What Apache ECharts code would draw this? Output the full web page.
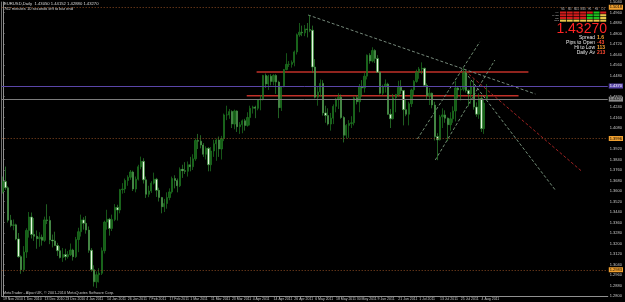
<!DOCTYPE html>
<html>
<head>
<meta charset="utf-8">
<script src="https://cdn.jsdelivr.net/npm/echarts@6/dist/echarts.min.js"></script>
<style>
  html, body { margin: 0; padding: 0; background: #000; }
  #chart { width: 625px; height: 302px; }
</style>
</head>
<body>
<div id="chart"></div>
<script>
// EURUSD daily, 19 Nov 2010 .. 8 Aug 2011 (one bar per weekday)
const dateLabels = ['19 Nov 2010', '1 Dec 2010', '13 Dec 2010', '23 Dec 2010', '4 Jan 2011', '14 Jan 2011',
  '26 Jan 2011', '7 Feb 2011', '17 Feb 2011', '1 Mar 2011', '11 Mar 2011', '23 Mar 2011', '4 Apr 2011',
  '14 Apr 2011', '26 Apr 2011', '6 May 2011', '18 May 2011', '30 May 2011', '9 Jun 2011', '21 Jun 2011',
  '1 Jul 2011', '13 Jul 2011', '25 Jul 2011', '4 Aug 2011']

const opens = [
  1.3593,1.3672,1.3624,1.3378,1.3338,1.3342,1.3235,1.3100,1.3000,1.3135,
  1.3300,1.3402,1.3269,1.3255,1.3236,1.3248,1.3224,1.3380,1.3376,1.3226,
  1.3220,1.3185,1.3145,1.3094,1.3116,1.3100,1.3115,1.3150,1.3100,1.3230,
  1.3290,1.3380,1.3354,1.3302,1.3148,1.3000,1.2908,1.2962,1.2973,1.3145,
  1.3363,1.3385,1.3315,1.3382,1.3475,1.3455,1.3610,1.3615,1.3680,1.3705,
  1.3745,1.3615,1.3690,1.3785,1.3826,1.3685,1.3575,1.3600,1.3660,1.3690,
  1.3605,1.3550,1.3480,1.3505,1.3550,1.3593,1.3695,1.3680,1.3640,1.3765,
  1.3755,1.3750,1.3800,1.3785,1.3845,1.3985,1.3980,1.3950,1.3880,1.3925,
  1.3800,1.3905,1.3960,1.3988,1.3920,1.4000,1.4180,1.4180,1.4205,1.4110,
  1.4210,1.4090,1.4105,1.4135,1.4100,1.4160,1.4230,1.4240,1.4230,1.4295,
  1.4300,1.4480,1.4415,1.4475,1.4435,1.4480,1.4430,1.4235,1.4395,1.4525,
  1.4565,1.4565,1.4580,1.4660,1.4790,1.4810,1.4805,1.4835,1.4830,1.4825,
  1.4545,1.4315,1.4355,1.4420,1.4195,1.4175,1.4110,1.4155,1.4245,1.4300,
  1.4315,1.4160,1.4025,1.4100,1.4115,1.4120,1.4310,1.4280,1.4395,1.4385,
  1.4475,1.4635,1.4590,1.4670,1.4610,1.4505,1.4345,1.4395,1.4415,1.4185,
  1.4150,1.4310,1.4335,1.4390,1.4365,1.4220,1.4185,1.4265,1.4370,1.4435,
  1.4505,1.4530,1.4535,1.4405,1.4325,1.4345,1.4255,1.4015,1.3990,1.4165,
  1.4180,1.4155,1.4105,1.4150,1.4210,1.4385,1.4370,1.4375,1.4500,1.4365,
  1.4340,1.4395,1.4240,1.4185,1.4305,1.4075,1.4305]

const highs = [
  1.3710,1.3786,1.3636,1.3418,1.3383,1.3351,1.3280,1.3110,1.3180,1.3316,
  1.3440,1.3436,1.3394,1.3299,1.3286,1.3268,1.3405,1.3499,1.3408,1.3268,
  1.3290,1.3205,1.3180,1.3166,1.3160,1.3142,1.3200,1.3160,1.3250,1.3320,
  1.3420,1.3400,1.3410,1.3330,1.3165,1.3034,1.2987,1.3012,1.3170,1.3374,
  1.3457,1.3395,1.3420,1.3500,1.3495,1.3616,1.3660,1.3695,1.3720,1.3760,
  1.3755,1.3710,1.3800,1.3862,1.3850,1.3710,1.3640,1.3675,1.3740,1.3700,
  1.3625,1.3555,1.3540,1.3590,1.3620,1.3710,1.3720,1.3695,1.3780,1.3800,
  1.3820,1.3825,1.3860,1.3880,1.4000,1.4035,1.4025,1.3965,1.3940,1.3935,
  1.3935,1.3990,1.4000,1.4015,1.4020,1.4190,1.4250,1.4225,1.4215,1.4220,
  1.4215,1.4125,1.4145,1.4150,1.4200,1.4250,1.4250,1.4250,1.4300,1.4330,
  1.4485,1.4495,1.4485,1.4490,1.4490,1.4490,1.4440,1.4400,1.4530,1.4650,
  1.4590,1.4595,1.4670,1.4800,1.4880,1.4860,1.4865,1.4880,1.4940,1.4860,
  1.4605,1.4395,1.4450,1.4445,1.4250,1.4230,1.4195,1.4260,1.4310,1.4345,
  1.4335,1.4170,1.4110,1.4140,1.4170,1.4320,1.4330,1.4415,1.4445,1.4500,
  1.4640,1.4650,1.4695,1.4680,1.4635,1.4510,1.4410,1.4450,1.4425,1.4225,
  1.4340,1.4340,1.4440,1.4445,1.4370,1.4300,1.4280,1.4380,1.4445,1.4525,
  1.4545,1.4580,1.4540,1.4420,1.4385,1.4350,1.4280,1.4040,1.4180,1.4230,
  1.4215,1.4160,1.4200,1.4245,1.4440,1.4400,1.4400,1.4540,1.4520,1.4375,
  1.4440,1.4450,1.4275,1.4345,1.4325,1.4300,1.4415]

const lows = [
  1.3580,1.3608,1.3360,1.3324,1.3301,1.3225,1.3091,1.2969,1.2983,1.3090,
  1.3245,1.3238,1.3220,1.3160,1.3175,1.3184,1.3212,1.3348,1.3195,1.3170,
  1.3180,1.3105,1.3086,1.3060,1.3072,1.3085,1.3105,1.3070,1.3090,1.3134,
  1.3253,1.3306,1.3275,1.3129,1.2985,1.2872,1.2861,1.2903,1.2960,1.3124,
  1.3306,1.3260,1.3295,1.3370,1.3375,1.3430,1.3580,1.3585,1.3640,1.3685,
  1.3600,1.3590,1.3680,1.3765,1.3657,1.3547,1.3553,1.3585,1.3650,1.3555,
  1.3520,1.3430,1.3440,1.3465,1.3530,1.3580,1.3620,1.3590,1.3630,1.3700,
  1.3730,1.3710,1.3750,1.3760,1.3830,1.3920,1.3925,1.3860,1.3840,1.3750,
  1.3750,1.3860,1.3830,1.3860,1.3840,1.3980,1.4140,1.4150,1.4080,1.4070,
  1.4050,1.4035,1.4040,1.4060,1.4090,1.4100,1.4190,1.4155,1.4215,1.4215,
  1.4290,1.4385,1.4370,1.4405,1.4405,1.4340,1.4155,1.4210,1.4390,1.4520,
  1.4545,1.4540,1.4550,1.4640,1.4775,1.4780,1.4780,1.4770,1.4810,1.4500,
  1.4305,1.4250,1.4320,1.4175,1.4120,1.4100,1.4060,1.4110,1.4200,1.4225,
  1.4150,1.3970,1.4000,1.4005,1.4080,1.4100,1.4260,1.4200,1.4320,1.4350,
  1.4450,1.4570,1.4580,1.4575,1.4500,1.4335,1.4330,1.4350,1.4180,1.4080,
  1.4145,1.4200,1.4320,1.4340,1.4100,1.4170,1.4100,1.4240,1.4330,1.4425,
  1.4455,1.4490,1.4400,1.4295,1.4255,1.4230,1.3985,1.3835,1.3985,1.4080,
  1.4120,1.3980,1.4060,1.4120,1.4130,1.4305,1.4290,1.4360,1.4350,1.4245,
  1.4265,1.4220,1.4165,1.4150,1.4050,1.4035,1.4288]

const closes = [
  1.3672,1.3624,1.3378,1.3338,1.3342,1.3235,1.3100,1.3000,1.3135,1.3300,
  1.3402,1.3269,1.3255,1.3236,1.3248,1.3224,1.3380,1.3376,1.3226,1.3220,
  1.3185,1.3145,1.3094,1.3116,1.3100,1.3115,1.3150,1.3100,1.3230,1.3290,
  1.3380,1.3354,1.3302,1.3148,1.3000,1.2908,1.2962,1.2973,1.3145,1.3363,
  1.3385,1.3315,1.3382,1.3475,1.3455,1.3610,1.3615,1.3680,1.3705,1.3745,
  1.3615,1.3690,1.3785,1.3826,1.3685,1.3575,1.3600,1.3660,1.3690,1.3605,
  1.3550,1.3480,1.3505,1.3550,1.3593,1.3695,1.3680,1.3640,1.3765,1.3755,
  1.3750,1.3800,1.3785,1.3845,1.3985,1.3980,1.3950,1.3880,1.3925,1.3800,
  1.3905,1.3960,1.3988,1.3920,1.4000,1.4180,1.4180,1.4205,1.4110,1.4210,
  1.4090,1.4105,1.4135,1.4100,1.4160,1.4230,1.4240,1.4230,1.4295,1.4300,
  1.4480,1.4415,1.4475,1.4435,1.4480,1.4430,1.4235,1.4395,1.4525,1.4565,
  1.4565,1.4580,1.4660,1.4790,1.4810,1.4805,1.4835,1.4830,1.4825,1.4545,
  1.4315,1.4355,1.4420,1.4195,1.4175,1.4110,1.4155,1.4245,1.4300,1.4315,
  1.4160,1.4025,1.4100,1.4115,1.4120,1.4310,1.4280,1.4395,1.4385,1.4475,
  1.4635,1.4590,1.4670,1.4610,1.4505,1.4345,1.4395,1.4415,1.4185,1.4150,
  1.4310,1.4335,1.4390,1.4365,1.4220,1.4185,1.4265,1.4370,1.4435,1.4505,
  1.4530,1.4535,1.4405,1.4325,1.4345,1.4255,1.4015,1.3990,1.4165,1.4180,
  1.4155,1.4105,1.4150,1.4210,1.4385,1.4370,1.4375,1.4500,1.4365,1.4340,
  1.4395,1.4240,1.4185,1.4305,1.4075,1.4270,1.4327]

// horizontal levels across the whole chart
const levelPrices = [1.5018, 1.4370, 1.4327, 1.3996, 1.2983]
// drawn objects: [bar, price] end points
const trendTop = [[117.3, 1.4941], [204.7, 1.4339]]
const trendRed = [[177.6, 1.4515], [222.8, 1.3745]]
const trendSteep = [[177.6, 1.4507], [212.3, 1.3608]]
const channelA = [[159.3, 1.3996], [183.3, 1.4736]]
const channelB = [[166.2, 1.3836], [189.1, 1.4598]]
const resistHigh = [[97.5, 1.4507], [202.0, 1.4507]]
const resistLow = [[93.7, 1.4325], [198.2, 1.4325]]

// info panel
const tfNames = ['M1', 'M5', 'M15', 'M30', 'H1', 'H4', 'D1']
const sigNames = ['MA', 'MACD', 'CCI', 'STO']
const signals = [
  [-1, -1, -1, -1, -1, 1, -1],
  [-1, -1, -1, -1, 1, 1, 0],
  [-1, -1, -1, -1, 1, 1, 0],
  [0, 0, 0, 0, 0, 0, 0]
]
const infoNames = ['Spread', 'Pips to Open', 'Hi to Low', 'Daily Av']
const infoValues = ['1.6', '-43', '113', '213']
const lastPrice = '1.43270'

const slots = 233
const cats = []
for (let i = 0; i < slots; i++) cats.push(i)
const candles = opens.map((o, i) => [o, closes[i], lows[i], highs[i]])

const font = '"Liberation Sans", Arial, sans-serif'
const dashed = (color, type) => ({ color: color, width: 1, type: type || [3, 2] })

function segment(pts, lineStyle) {
  return {
    type: 'line', xAxisIndex: 1, yAxisIndex: 0, data: pts,
    symbol: 'none', lineStyle: lineStyle, z: 1, silent: true
  }
}

const levelStyles = [
  { line: dashed('#8a4a22', [1, 2]), bg: '#f0a030', fg: '#000' },
  { line: { color: '#5a46a8', width: 1, type: 'solid' }, bg: '#5a46a8', fg: '#fff' },
  { line: { color: '#7c7c7c', width: 1, type: 'solid' }, bg: '#8a8a8a', fg: '#000' },
  { line: dashed('#8a4a22', [1, 2]), bg: '#f0a030', fg: '#000' },
  { line: dashed('#8a4a22', [1, 2]), bg: '#f0a030', fg: '#000' }
]

const graphics = []
graphics.push({ type: 'text', x: 4, y: 2, z: 50, style: { text: 'EURUSD,Daily  1.43050 1.44152 1.42880 1.43270', fill: '#d8d8d8', font: '4.2px ' + font } })
graphics.push({ type: 'text', x: 4, y: 6.5, z: 50, style: { text: '762 minutes 10 seconds left to bar end', fill: '#d8d8d8', font: '4px ' + font } })
graphics.push({ type: 'text', x: 3, y: 291, z: 50, style: { text: 'MetaTrader - Alpari UK, \u00a9 2001-2010 MetaQuotes Software Corp.', fill: '#c8c8c8', font: '3.8px ' + font } })
tfNames.forEach((t, c) => {
  graphics.push({ type: 'text', x: 563 + c * 6.7, y: 8, z: 50, style: { text: t, fill: '#bbbbbb', font: '2.6px ' + font, textAlign: 'center' } })
})
sigNames.forEach((t, r) => {
  graphics.push({ type: 'text', x: 559, y: 11.5 + r * 2.7, z: 50, style: { text: t, fill: '#bbbbbb', font: '2.4px ' + font, textAlign: 'right' } })
  signals[r].forEach((s, c) => {
    graphics.push({ type: 'rect', z: 50, shape: { x: 560 + c * 6.7, y: 11.5 + r * 2.7, width: 6, height: 2.1 },
      style: { fill: s < 0 ? '#d41c1c' : (s > 0 ? '#1fc21f' : '#e8c64a') } })
  })
})
graphics.push({ type: 'text', x: 607, y: 22, z: 50, style: { text: lastPrice, fill: '#ff2424', font: '14px ' + font, textAlign: 'right' } })
const infoColors = ['#ffa630', '#ff4a30', '#ffa630', '#ff4a30']
infoNames.forEach((t, r) => {
  graphics.push({ type: 'text', x: 595, y: 35 + r * 5, z: 50, style: { text: t, fill: '#e6e6e6', font: '5px ' + font, textAlign: 'right' } })
  graphics.push({ type: 'text', x: 597, y: 35 + r * 5, z: 50, style: { text: infoValues[r], fill: infoColors[r], font: 'bold 5px ' + font } })
})

const showTick = (i) => i % 8 === 0 && i / 8 < dateLabels.length

const chart = echarts.init(document.getElementById('chart'))
chart.setOption({
  backgroundColor: '#000',
  animation: false,
  grid: { left: 0, right: 14, top: 2, bottom: 6 },
  xAxis: [{
    type: 'category', data: cats, boundaryGap: true,
    axisLine: { lineStyle: { color: '#909090' } },
    axisTick: { interval: showTick, length: 2, lineStyle: { color: '#909090' } },
    axisLabel: {
      interval: showTick, align: 'left', margin: 1, fontSize: 3.5, color: '#c8c8c8', fontFamily: font,
      formatter: (v) => dateLabels[Number(v) / 8] || ''
    },
    splitLine: { show: false }
  }, {
    type: 'value', min: -0.5, max: slots - 0.5, show: false
  }],
  yAxis: [{
    type: 'value', position: 'right', min: 1.28, max: 1.504, interval: 0.008,
    axisLine: { show: true, lineStyle: { color: '#909090' } },
    axisTick: { show: true, length: 1.5, lineStyle: { color: '#909090' } },
    axisLabel: { margin: 2, fontSize: 4, color: '#c8c8c8', fontFamily: font, formatter: (v) => v.toFixed(4) },
    splitLine: { show: false }
  }, {
    type: 'value', position: 'left', min: 1.28, max: 1.504,
    axisLine: { show: true, lineStyle: { color: '#707070' } },
    axisTick: { show: false }, axisLabel: { show: false }, splitLine: { show: false }
  }],
  series: [
    {
      type: 'line', data: [], silent: true,
      markLine: {
        symbol: ['none', 'none'], silent: true,
        data: levelPrices.map((p, i) => ({
          yAxis: p, lineStyle: levelStyles[i].line,
          label: {
            show: true, position: 'end', distance: 1, formatter: p.toFixed(4),
            fontSize: 4, fontFamily: font, color: levelStyles[i].fg,
            backgroundColor: levelStyles[i].bg, padding: [0.5, 1]
          }
        }))
      }
    },
    segment(resistHigh, { color: '#c03028', width: 1.5 }),
    segment(resistLow, { color: '#c03028', width: 1.5 }),
    segment(trendTop, dashed('#75887a')),
    segment(trendRed, dashed('#a02222')),
    segment(trendSteep, dashed('#75907a')),
    segment(channelA, dashed('#6f8c72')),
    segment(channelB, dashed('#6f8c72')),
    {
      type: 'candlestick', data: candles, barWidth: 1.8, z: 3,
      itemStyle: {
        color: '#145e16', color0: '#e6f8e2',
        borderColor: '#1f7a22', borderColor0: '#2f8a30', borderWidth: 0.7
      }
    }
  ],
  graphic: graphics
})
</script>
</body>
</html>
